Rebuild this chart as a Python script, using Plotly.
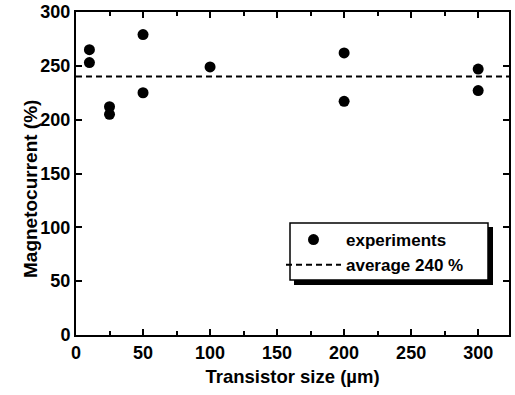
import plotly.graph_objects as go

# Data
size_um = [10, 10, 25, 25, 50, 50, 100, 200, 200, 300, 300]
magnetocurrent = [265, 253, 212, 205, 279, 225, 249, 262, 217, 247, 227]
avg_x = [0, 323]
avg_y = [240, 240]
x_ticks = [0, 50, 100, 150, 200, 250, 300]
y_ticks = [0, 50, 100, 150, 200, 250, 300]

FONT = "Liberation Sans, Arial, sans-serif"

fig = go.Figure()
fig.add_trace(go.Scatter(
    x=size_um, y=magnetocurrent, mode="markers", name="experiments",
    marker=dict(symbol="circle", size=11, color="black"),
))
fig.add_trace(go.Scatter(
    x=avg_x, y=avg_y, mode="lines", name="average 240 %",
    line=dict(color="black", width=2, dash="6px,4px"),
))

axis_common = dict(
    showline=True, linecolor="black", linewidth=2, mirror="ticks",
    ticks="inside", ticklen=6, tickwidth=1.5, tickcolor="black",
    showgrid=False, zeroline=False, automargin=False,
    tickfont=dict(family=FONT, size=18, color="black", weight="bold"),
)

fig.update_xaxes(
    range=[0, 323], tickvals=x_ticks,
    minor=dict(ticks="inside", dtick=25, tick0=0, ticklen=4, tickwidth=1.5, tickcolor="black"),
    title=dict(text="Transistor size (µm)", standoff=8,
               font=dict(family=FONT, size=18.5, color="black", weight="bold")),
    **axis_common,
)
fig.update_yaxes(range=[0, 300], tickvals=y_ticks, **axis_common)

L, R, T, B = 76, 509, 12, 335
W, H = R - L, B - T
def px(x):
    return (x - L) / W
def py(y):
    return (B - y) / H

# y-axis title as annotation (slightly below plot centre, as in reference)
fig.add_annotation(text="Magnetocurrent (%)", textangle=-90, showarrow=False,
                   xref="paper", yref="paper", x=px(30), y=py(189),
                   xanchor="center", yanchor="middle",
                   font=dict(family=FONT, size=19, color="black", weight="bold"))

# legend frame with drop shadow
fig.add_shape(type="rect", xref="paper", yref="paper",
              x0=px(294), x1=px(493), y0=py(285), y1=py(227),
              fillcolor="black", line=dict(width=0), layer="above")
fig.add_shape(type="rect", xref="paper", yref="paper",
              x0=px(290), x1=px(488), y0=py(280), y1=py(223),
              fillcolor="white", line=dict(color="black", width=1.5), layer="above")

fig.update_layout(
    width=515, height=395,
    margin=dict(l=L, r=515 - R, t=T, b=395 - B),
    paper_bgcolor="white", plot_bgcolor="white",
    showlegend=True,
    legend=dict(
        x=px(281), y=py(222), xanchor="left", yanchor="top",
        bgcolor="rgba(0,0,0,0)", borderwidth=0,
        font=dict(family=FONT, size=17, color="black", weight="bold"),
        itemwidth=55, tracegroupgap=0,
    ),
)

fig.write_html("out.html", config={"displayModeBar": False},
               post_script="document.body.style.margin='0';")
